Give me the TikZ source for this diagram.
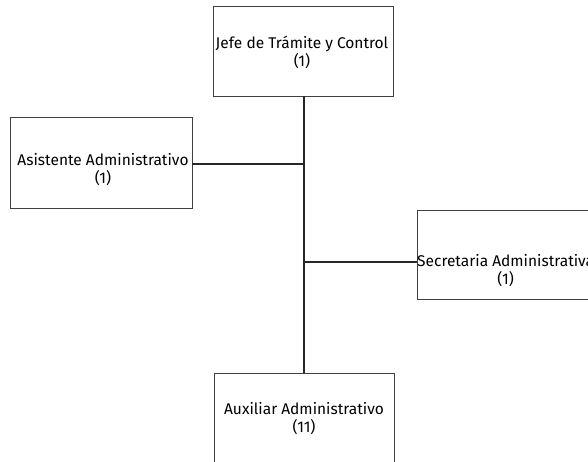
\documentclass[tikz,border=0pt]{standalone}
\usepackage{fontspec}
\setmainfont{Fira Sans}
\usetikzlibrary{positioning}
\tikzset{
    cargo/.style = {rectangle, draw=black!75, line width=0.9pt, minimum width=180pt, minimum height=90pt, inner sep=0pt},
    rotulo/.style = {align=center, font=\fontsize{15.5}{18}\selectfont, inner sep=0pt},
    linea/.style = {line width=2pt, black!85}
}
\begin{document}
\begin{tikzpicture}[x=1pt,y=-1pt]
\clip (0,0) rectangle (588,461);
\useasboundingbox (0,0) rectangle (588,461);
%
\node[cargo] at (303,51) (jefe) {};
\node[cargo, minimum width=182pt, minimum height=91pt] at (101,162.5) (asis) {};
\node[cargo, minimum width=176pt, minimum height=89pt] at (505,254.5) (secre) {};
\node[cargo, minimum height=92pt] at (304,419) (auxi) {};
%
\node[rotulo] at (302,52) (jefe-t) {Jefe de Trámite y Control\\(1)};
\node[rotulo] at (103,170) (asis-t) {Asistente Administrativo\\(1)};
\node[rotulo, anchor=west] at (417,271) (secre-t) {Secretaria Administrativa\\(1)};
\node[rotulo] at (304,419) (auxi-t) {Auxiliar Administrativo\\(11)};
%
\coordinate (eje-a) at (304,164);
\coordinate (eje-s) at (304,262);
\draw[linea] (jefe.south -| eje-a) -- (auxi.north -| eje-a);
\draw[linea] (asis.east |- eje-a) -- (eje-a);
\draw[linea] (eje-s) -- (secre.west |- eje-s);
\end{tikzpicture}
\end{document}
